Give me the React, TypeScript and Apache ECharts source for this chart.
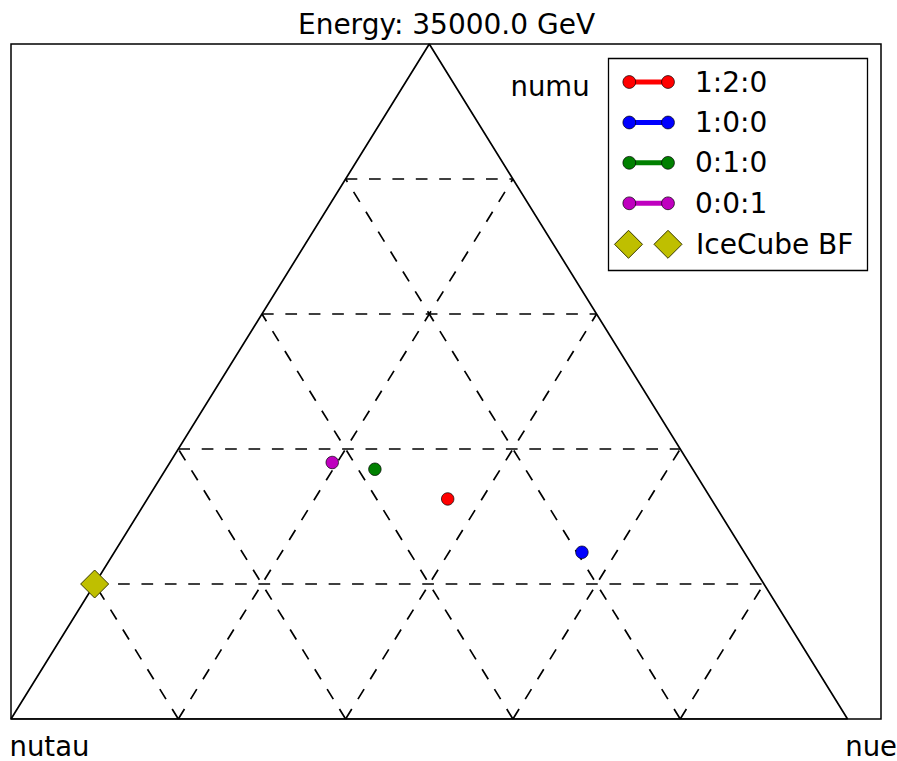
import React, { useEffect, useRef } from "react";
import * as echarts from "echarts";

// ---- data (flavour fractions) ----
const H = Math.sqrt(3) / 2;
const gridTicks = [0.2, 0.4, 0.6, 0.8];
const seriesNames = ["1:2:0", "1:0:0", "0:1:0", "0:0:1"];
const nueFrac = [0.359, 0.559, 0.25, 0.194];
const numuFrac = [0.326, 0.247, 0.37, 0.38];
const icecubeName = "IceCube BF";
const icecubeNue = [0.0];
const icecubeNumu = [0.2];
const titleText = "Energy: 35000.0 GeV";
const cornerLabels = ["numu", "nutau", "nue"];

// ---- styles ----
const COLORS = ["#ff0000", "#0000ff", "#008000", "#bf00bf"];
const DIAMOND = "#bfbf00";
const FONT = "DejaVu Sans";

const toXY = (nue: number, numu: number) => [nue + 0.5 * numu, numu * H];

export default function App() {
  const ref = useRef<HTMLDivElement>(null);
  useEffect(() => {
    if (!ref.current) return;
    const chart = echarts.init(ref.current, null, { renderer: "svg" });

    const gridSegs: number[][][] = [];
    gridTicks.forEach((c) => {
      // constant numu (horizontal)
      gridSegs.push([[0.5 * c, c * H], [1 - 0.5 * c, c * H]]);
      // constant nue (parallel to left side)
      gridSegs.push([[c, 0], [c + 0.5 * (1 - c), (1 - c) * H]]);
      // constant nutau (parallel to right side)
      gridSegs.push([[1 - c, 0], [0.5 * (1 - c), (1 - c) * H]]);
    });

    const series: any[] = [];
    series.push({
      type: "line",
      data: [[0, 0], [1, 0], [0.5, H], [0, 0]],
      symbol: "none",
      silent: true,
      lineStyle: { color: "#000", width: 1.7 },
      z: 2,
    });
    gridSegs.forEach((seg) => {
      series.push({
        type: "line",
        data: seg,
        symbol: "none",
        silent: true,
        lineStyle: { color: "#000", width: 1.7, type: [11.7, 11.7] },
        z: 1,
      });
    });
    seriesNames.forEach((name, i) => {
      series.push({
        type: "scatter",
        name,
        data: [toXY(nueFrac[i], numuFrac[i])],
        symbol: "circle",
        symbolSize: 12.5,
        itemStyle: { color: COLORS[i], opacity: 1, borderColor: "#000", borderWidth: 0.7 },
        z: 5,
      });
    });
    series.push({
      type: "scatter",
      name: icecubeName,
      data: icecubeNue.map((n, i) => toXY(n, icecubeNumu[i])),
      symbol: "diamond",
      symbolSize: 28,
      itemStyle: { color: DIAMOND, opacity: 1, borderColor: "#3a3a00", borderWidth: 1 },
      z: 6,
    });

    const legendY = [82, 122.5, 162.8, 203.3, 244.3];
    const graphics: any[] = [];
    graphics.push({
      type: "rect",
      shape: { x: 608.5, y: 58.5, width: 259, height: 212 },
      style: { fill: "#fff", stroke: "#000", lineWidth: 1.3 },
      z: 10,
    });
    seriesNames.forEach((name, i) => {
      const y = legendY[i];
      graphics.push({
        type: "line",
        shape: { x1: 629.3, y1: y, x2: 668, y2: y },
        style: { stroke: COLORS[i], lineWidth: 5 },
        z: 11,
      });
      [629.3, 668].forEach((cx) =>
        graphics.push({
          type: "circle",
          shape: { cx, cy: y, r: 6.4 },
          style: { fill: COLORS[i], stroke: "#000", lineWidth: 0.7 },
          z: 12,
        })
      );
      graphics.push({
        type: "text",
        x: 695,
        y,
        style: {
          text: name,
          fill: "#000",
          fontSize: 28,
          fontFamily: FONT,
          textAlign: "left",
          textVerticalAlign: "middle",
          verticalAlign: "middle",
        },
        z: 12,
      });
    });
    {
      const y = legendY[4];
      [628.5, 668].forEach((cx) =>
        graphics.push({
          type: "polygon",
          shape: { points: [[cx, y - 14], [cx + 14, y], [cx, y + 14], [cx - 14, y]] },
          style: { fill: DIAMOND, stroke: "#3a3a00", lineWidth: 1 },
          z: 12,
        })
      );
      graphics.push({
        type: "text",
        x: 696,
        y,
        style: {
          text: icecubeName,
          fill: "#000",
          fontSize: 28,
          fontFamily: FONT,
          textAlign: "left",
          textVerticalAlign: "middle",
          verticalAlign: "middle",
        },
        z: 12,
      });
    }
    const txt = (text: string, x: number, y: number, align: string, size: number) => ({
      type: "text",
      x,
      y,
      style: {
        text,
        fill: "#000",
        fontSize: size,
        fontFamily: FONT,
        textAlign: align,
        textVerticalAlign: "middle",
        verticalAlign: "middle",
      },
      z: 12,
    });
    graphics.push(txt(titleText, 446.5, 24.6, "center", 28));
    graphics.push(txt(cornerLabels[0], 510.5, 85.5, "left", 27.5));
    graphics.push(txt(cornerLabels[1], 9.5, 746, "left", 27.5));
    graphics.push(txt(cornerLabels[2], 897, 746, "right", 27.5));

    chart.setOption({
      animation: false,
      grid: {
        left: 11,
        right: 16,
        top: 44,
        bottom: 42,
        show: true,
        borderColor: "#000",
        borderWidth: 1.5,
        backgroundColor: "transparent",
      },
      xAxis: {
        type: "value",
        min: 0,
        max: 1.04,
        show: true,
        axisLine: { show: false },
        axisTick: { show: false },
        axisLabel: { show: false },
        splitLine: { show: false },
      },
      yAxis: {
        type: "value",
        min: 0,
        max: H,
        show: true,
        axisLine: { show: false },
        axisTick: { show: false },
        axisLabel: { show: false },
        splitLine: { show: false },
      },
      series,
      graphic: graphics,
    });
    return () => chart.dispose();
  }, []);
  return (
    <div
      ref={ref}
      style={{ position: "fixed", left: 0, top: 0, width: 897, height: 761, background: "#fff" }}
    />
  );
}
